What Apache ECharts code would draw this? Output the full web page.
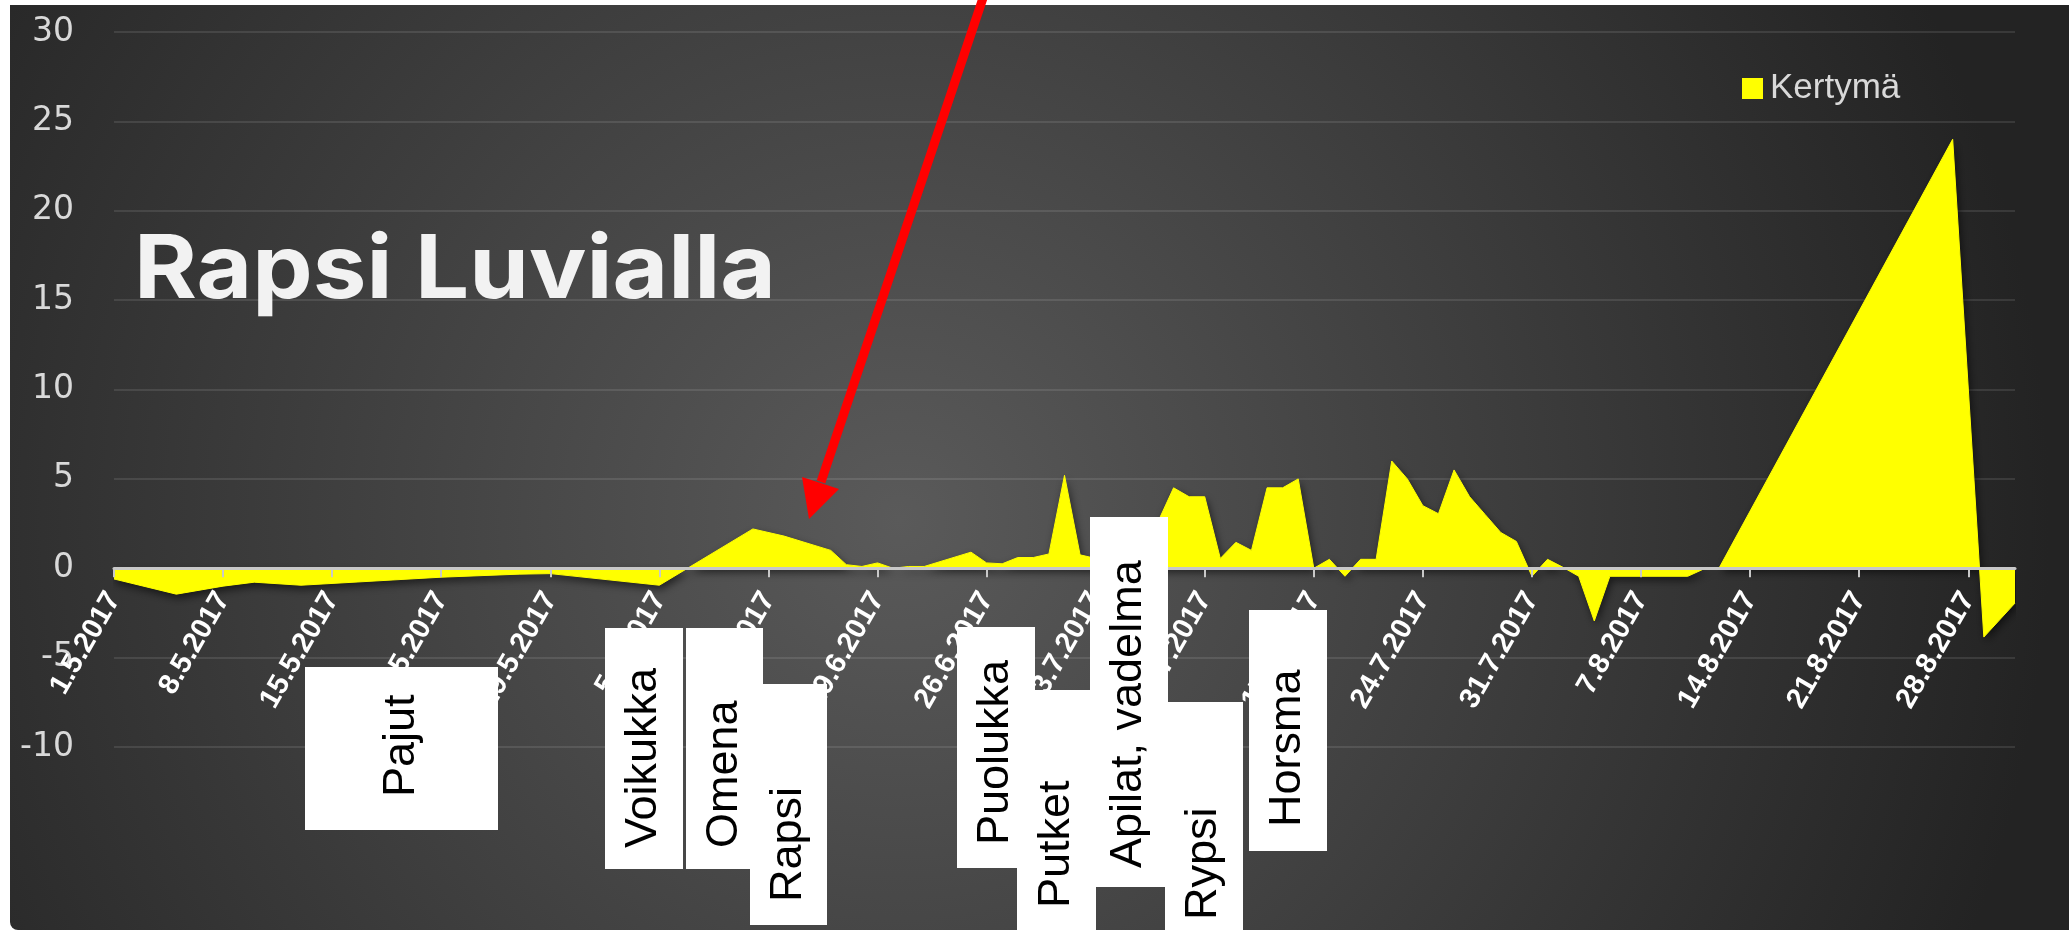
<!DOCTYPE html>
<html><head><meta charset="utf-8">
<script src="https://cdn.jsdelivr.net/npm/echarts@6/dist/echarts.min.js"></script>
<style>html,body{margin:0;padding:0;background:#fff;}#c{width:2069px;height:932px;}</style>
</head><body><div id="c"></div>
<script>
// ---- data ----
const chartTitle = 'Rapsi Luvialla';
const seriesName = 'Kertymä';
const dates = ['1.5.2017','5.5.2017','8.5.2017','10.5.2017','13.5.2017','22.5.2017','27.5.2017','29.5.2017',
  '5.6.2017','11.6.2017','13.6.2017','16.6.2017','17.6.2017','18.6.2017','19.6.2017','20.6.2017','21.6.2017','22.6.2017',
  '25.6.2017','26.6.2017','27.6.2017','28.6.2017','29.6.2017','30.6.2017','1.7.2017','2.7.2017','3.7.2017','7.7.2017',
  '8.7.2017','9.7.2017','10.7.2017','11.7.2017','12.7.2017','13.7.2017','14.7.2017','15.7.2017','16.7.2017','17.7.2017',
  '18.7.2017','19.7.2017','20.7.2017','21.7.2017','22.7.2017','23.7.2017','24.7.2017','25.7.2017','26.7.2017','27.7.2017',
  '28.7.2017','29.7.2017','30.7.2017','31.7.2017','1.8.2017','2.8.2017','3.8.2017','4.8.2017','5.8.2017','10.8.2017',
  '11.8.2017','12.8.2017','27.8.2017','29.8.2017','31.8.2017'];
const values = [-0.6,-1.45,-1.0,-0.78,-0.95,-0.5,-0.33,-0.3,
  -0.95,2.2,1.8,1.0,0.2,0.1,0.3,0.0,0.1,0.1,
  0.9,0.3,0.25,0.6,0.6,0.8,5.2,0.75,0.55,2.6,
  4.5,4.0,4.0,0.55,1.45,1.0,4.5,4.5,5.0,0.0,
  0.5,-0.45,0.5,0.5,6.0,5.0,3.5,3.05,5.5,4.0,
  3.0,2.0,1.5,-0.45,0.5,0.05,-0.45,-2.95,-0.45,-0.45,
  -0.05,0.0,24.0,-3.85,-1.95];
const tickLabels = ['1.5.2017','8.5.2017','15.5.2017','22.5.2017','29.5.2017','5.6.2017','12.6.2017','19.6.2017',
  '26.6.2017','3.7.2017','10.7.2017','17.7.2017','24.7.2017','31.7.2017','7.8.2017','14.8.2017','21.8.2017','28.8.2017'];
const xStart = '1.5.2017', xEnd = '31.8.2017';
const yMin = -10, yMax = 30, yStep = 5;
const notes = ['Pajut','Voikukka','Omena','Rapsi','Puolukka','Putket','Apilat, vadelma','Rypsi','Horsma'];

// ---- helpers ----
function dayIdx(s){const [d,m,y]=s.split('.').map(Number);return Math.round((Date.UTC(y,m-1,d)-Date.UTC(2017,4,1))/86400000);}
function fmt(i){const t=new Date(Date.UTC(2017,4,1)+i*86400000);return t.getUTCDate()+'.'+(t.getUTCMonth()+1)+'.'+t.getUTCFullYear();}
const seriesData = dates.map((d,i)=>[dayIdx(d),values[i]]);
const tickVals = tickLabels.map(dayIdx);

// ---- layout ----
const W = 2069, H = 932;
const gridTop = 32, gridBottom = 185;
const plotH = H - gridTop - gridBottom;
const zeroShift = plotH * (0 - yMin) / (yMax - yMin); // distance from plot bottom to the zero line
// annotation boxes: [x, y, w, h, textStartY]
const noteBoxes = [[305,667,193,163,797],[605,628,78,241,848],[686,628,77,241,848],[750,684,77,241,902],
  [957,627,78,241,845],[1017,690,79,250,908],[1090,517,78,370,868],[1165,702,78,240,920],[1249,610,78,241,827]];

const graphics = [];
graphics.push({type:'rect',z:-100,silent:true,shape:{x:10,y:5,width:2059,height:925,r:[0,0,0,8]},
  style:{fill:new echarts.graphic.RadialGradient(900,520,1150,[{offset:0,color:'#5a5a5a'},{offset:1,color:'#232323'}],true)}});
noteBoxes.forEach((b)=>{graphics.push({type:'rect',z:100,shape:{x:b[0],y:b[1],width:b[2],height:b[3]},style:{fill:'#ffffff'}});});
noteBoxes.forEach((b,i)=>{graphics.push({type:'text',z:101,x:b[0]+b[2]/2,y:b[4],rotation:Math.PI/2,
  style:{text:notes[i],fill:'#000',font:'45px "Liberation Sans", Arial, sans-serif',align:'left',verticalAlign:'middle',textAlign:'left',textVerticalAlign:'middle'}});});
graphics.push({type:'text',z:110,x:134,y:272,scaleX:1.09,style:{text:chartTitle,fill:'#f2f2f2',font:'bold 88px Inter, "Open Sans", sans-serif',
  align:'left',verticalAlign:'middle',textAlign:'left',textVerticalAlign:'middle',shadowBlur:8,shadowColor:'rgba(0,0,0,0.8)',shadowOffsetX:3,shadowOffsetY:4}});
graphics.push({type:'line',z:120,shape:{x1:984,y1:-5,x2:821,y2:482},style:{stroke:'#ff0000',lineWidth:9}});
graphics.push({type:'polygon',z:120,shape:{points:[[802,477],[839,489],[809,519]]},style:{fill:'#ff0000'}});

const chart = echarts.init(document.getElementById('c'));
chart.setOption({
  animation:false,
  backgroundColor:'#ffffff',
  graphic:{elements:graphics},
  legend:{data:[seriesName],left:1737,top:66,icon:'rect',itemWidth:21,itemHeight:21,itemGap:10,
    textStyle:{color:'#d9d9d9',fontSize:35,padding:[0,0,0,2],fontFamily:'"Liberation Sans", Arial, sans-serif'}},
  grid:{left:114,right:54,top:gridTop,bottom:gridBottom,containLabel:false},
  xAxis:{type:'value',min:dayIdx(xStart),max:dayIdx(xEnd),interval:7,z:5,offset:-zeroShift,
    axisLine:{onZero:false,lineStyle:{color:'#c8c8c8',width:3}},
    axisTick:{show:true,customValues:tickVals,length:9,lineStyle:{color:'#c8c8c8',width:2}},
    axisLabel:{customValues:tickVals,rotate:60,margin:26,color:'#ffffff',fontWeight:'bold',fontSize:29,
      fontFamily:'"Liberation Sans", Arial, sans-serif',formatter:(v)=>fmt(v)},
    splitLine:{show:false}},
  yAxis:{type:'value',min:yMin,max:yMax,interval:yStep,
    axisLine:{show:false},axisTick:{show:false},
    axisLabel:{color:'#d9d9d9',fontSize:33,margin:40,fontFamily:'"DejaVu Sans", sans-serif'},
    splitLine:{lineStyle:{color:'rgba(255,255,255,0.1)',width:2}}},
  series:[{name:seriesName,type:'line',data:seriesData,symbol:'none',showSymbol:false,color:'#ffff00',
    lineStyle:{width:1,color:'#ffff00'},
    areaStyle:{color:'#ffff00',opacity:1,shadowBlur:8,shadowColor:'rgba(0,0,0,0.6)',shadowOffsetY:4,shadowOffsetX:2}}]
});
</script></body></html>
